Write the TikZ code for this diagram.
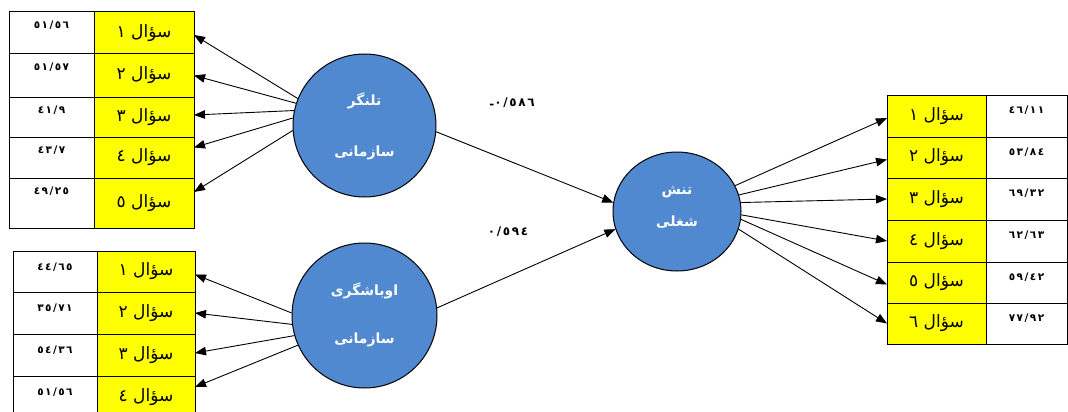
\documentclass[tikz,border=0pt]{standalone}
\usepackage{fontspec}
\TeXXeTstate=1
\newfontfamily\arabicfont[Script=Arabic]{DejaVu Sans}
\newfontfamily\numfont[Script=Arabic,LetterSpace=14]{DejaVu Sans}
\usetikzlibrary{arrows.meta,shapes.geometric,calc}
\definecolor{cblue}{RGB}{80,137,208}
\definecolor{cyel}{RGB}{255,255,0}
\tikzset{
  cell/.style={draw=black, line width=1pt, inner sep=0pt, outer sep=0pt},
  ycell/.style={cell, fill=cyel, font=\arabicfont\fontsize{17}{17}\selectfont},
  wcell/.style={cell, fill=white},
  numtext/.style={font=\numfont\bfseries\fontsize{10.5}{11}\selectfont, inner sep=0pt},
  circ/.style={circle, draw=black, line width=1pt, fill=cblue, inner sep=0pt},
  ellc/.style={ellipse, draw=black, line width=1pt, fill=cblue, inner sep=0pt},
  ctext/.style={text=white, font=\arabicfont\bfseries\fontsize{14}{14}\selectfont, inner sep=0pt},
  arr/.style={draw=black, line width=0.9pt, -{Triangle[length=11pt,width=8.5pt]}},
  coef/.style={font=\numfont\bfseries\fontsize{12}{12}\selectfont, inner sep=0pt}
}
\begin{document}
\begin{tikzpicture}[x=1pt,y=-1pt]
\useasboundingbox (0,0) rectangle (1068,412);
\clip (0,0) rectangle (1068,412);

% ---------- top-left table ----------
\foreach \i/\t/\b/\na/\nb/\d in {1/12/54/٥١/٥٦/١, 2/54/97/٥١/٥٧/٢, 3/97/137/٤١/٩/٣, 4/137/178/٤٣/٧/٤, 5/178/228/٤٩/٢٥/٥}{
  \pgfmathsetmacro\cy{(\t+\b)/2}
  \pgfmathsetmacro\hh{\b-\t}
  \node[wcell, minimum width=85pt, minimum height=\hh pt] (tw\i) at (51.5,\cy) {};
  \node[ycell, minimum width=100pt, minimum height=\hh pt] (ty\i) at (144,\cy) {\beginR سؤال \d\endR};
  \node[numtext] (tn\i) at ($(tw\i.north)+(0,13)$) {\na/\nb};
}

% ---------- bottom-left table ----------
\foreach \i/\t/\b/\na/\nb/\d in {1/251/292/٤٤/٦٥/١, 2/292/334/٣٥/٧١/٢, 3/334/376/٥٤/٣٦/٣, 4/376/418/٥١/٥٦/٤}{
  \pgfmathsetmacro\cy{(\t+\b)/2}
  \pgfmathsetmacro\hh{\b-\t}
  \node[wcell, minimum width=84pt, minimum height=\hh pt] (bw\i) at (55,\cy) {};
  \node[ycell, minimum width=98pt, minimum height=\hh pt] (by\i) at (146,\cy) {\beginR سؤال \d\endR};
  \node[numtext] (bn\i) at ($(bw\i.north)+(0,16)$) {\na/\nb};
}

% ---------- right table ----------
\foreach \i/\t/\b/\na/\nb/\d in {1/95/137/٤٦/١١/١, 2/137/178/٥٣/٨٤/٢, 3/178/220/٦٩/٣٢/٣, 4/220/262/٦٢/٦٣/٤, 5/262/303/٥٩/٤٢/٥, 6/303/344/٧٧/٩٢/٦}{
  \pgfmathsetmacro\cy{(\t+\b)/2}
  \pgfmathsetmacro\hh{\b-\t}
  \node[ycell, minimum width=99pt, minimum height=\hh pt] (ry\i) at (936.5,\cy) {\beginR سؤال \d\endR};
  \node[wcell, minimum width=81pt, minimum height=\hh pt] (rw\i) at (1026.5,\cy) {};
  \node[numtext] (rn\i) at ($(rw\i.north)+(0,15)$) {\na/\nb};
}

% ---------- latent variables ----------
\node[circ, minimum size=143pt] (c1) at (364.5,125.5) {};
\node[ctext] (c1a) at ($(c1.center)+(0,-25)$) {\beginR تلنگر\endR};
\node[ctext] (c1b) at ($(c1.center)+(0,27)$) {\beginR سازمانی\endR};

\node[circ, minimum size=145pt] (c2) at (364.5,315.5) {};
\node[ctext] (c2a) at ($(c2.center)+(0,-25)$) {\beginR اوباشگری\endR};
\node[ctext] (c2b) at ($(c2.center)+(0,24)$) {\beginR سازمانی\endR};

\node[ellc, minimum width=128pt, minimum height=119pt] (c3) at (677,211.5) {};
\node[ctext] (c3a) at ($(c3.center)+(0,-19)$) {\beginR تنش\endR};
\node[ctext] (c3b) at ($(c3.center)+(0,11)$) {\beginR شغلی\endR};

% ---------- connectors ----------
\draw[arr] (c1.158) -- ([yshift=-2pt]ty1.east);
\draw[arr] (c1.162) -- (ty2.east);
\draw[arr] (c1.168) -- ([yshift=2pt]ty3.east);
\draw[arr] (c1.174) -- ([yshift=10pt]ty4.east);
\draw[arr] (c1.184) -- ([yshift=11pt]ty5.east);

\draw[arr] (c2.178) -- ([yshift=-3pt]by1.east);
\draw[arr] (c2.187) -- (by2.east);
\draw[arr] (c2.196) -- ([yshift=2pt]by3.east);
\draw[arr] (c2.204) -- ([yshift=10pt]by4.east);

\draw[arr] (c1.-5) -- (c3.172);
\draw[arr] (c2.6) -- (c3.196);

\draw[arr] (c3.24) -- ([yshift=-2pt]ry1.west);
\draw[arr] (c3.15) -- ([yshift=-2pt]ry2.west);
\draw[arr] (c3.8) -- (ry3.west);
\draw[arr] (c3.-3) -- (ry4.west);
\draw[arr] (c3.-7) -- ([yshift=-2pt]ry5.west);
\draw[arr] (c3.-16) -- (ry6.west);

% ---------- path coefficients ----------
\node[coef] (k1) at (512,103) {\raisebox{-0.2em}{\hbox{-}}\hbox{٠/٥٨٦}};
\node[coef] (k2) at (508,232) {٠/٥٩٤};
\end{tikzpicture}
\end{document}
